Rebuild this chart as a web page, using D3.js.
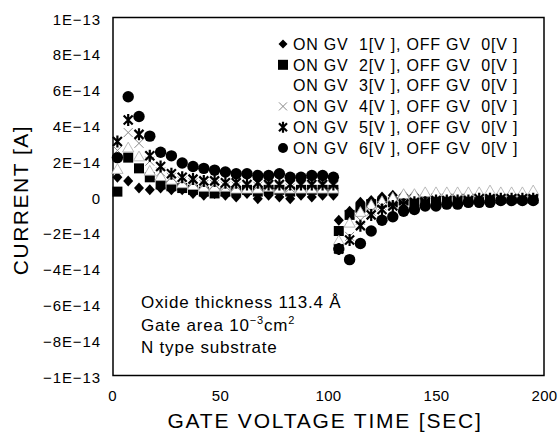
<!DOCTYPE html>
<html><head><meta charset="utf-8">
<script src="https://cdn.jsdelivr.net/npm/d3@7"></script>
<style>body{margin:0;background:#fff;} text{font-family:"Liberation Sans",Arial,sans-serif;fill:#000;}</style>
</head><body>
<svg id="c" width="559" height="441"></svg>
<script>
// ---- data ----
const timesOn  = d3.range(21).map(k => 2.5 + 5*k);      // ON phase sample times [s]
const timesOff = d3.range(19).map(k => 105 + 5*k);      // OFF phase sample times [s]
const seriesNames = ["ON GV  1[V ], OFF GV  0[V ]","ON GV  2[V ], OFF GV  0[V ]","ON GV  3[V ], OFF GV  0[V ]",
                     "ON GV  4[V ], OFF GV  0[V ]","ON GV  5[V ], OFF GV  0[V ]","ON GV  6[V ], OFF GV  0[V ]"];
// values in units of 1E-14 A
const s1On  = [1.1,0.9,0.5,0.4,0.5,0.4,0.4,0.2,0.1,0.2,0.1,0.0,0.2,-0.1,0.1,0.0,-0.1,0.1,0.0,0.1,0.1];
const s2On  = [0.3,2.2,1.6,1.1,0.7,0.6,0.5,0.4,0.3,0.2,0.3,0.3,0.4,0.3,0.4,0.4,0.3,0.4,0.4,0.4,0.4];
const s3On  = [1.5,2.7,2.2,1.4,1.1,0.9,0.7,0.6,0.5,0.5,0.5,0.4,0.4,0.4,0.5,0.4,0.4,0.4,0.4,0.4,0.4];
const s4On  = [2.6,3.6,3.0,2.0,1.4,1.1,0.9,0.8,0.7,0.7,0.6,0.6,0.6,0.6,0.6,0.6,0.5,0.6,0.6,0.6,0.6];
const s5On  = [3.1,4.3,3.5,2.3,1.7,1.3,1.1,1.0,0.9,0.9,0.8,0.8,0.7,0.8,0.7,0.7,0.7,0.7,0.7,0.7,0.7];
const s6On  = [2.2,5.6,4.5,3.4,2.5,2.3,1.9,1.7,1.6,1.5,1.4,1.3,1.3,1.2,1.2,1.3,1.1,1.1,1.2,1.2,1.1];
const s1Off = [-1.3,-0.8,-0.3,-0.2,0.0,0.1,0.1,0.1,0.1,0.1,0.1,0.1,0.1,0.1,0.1,0.1,0.1,0.1,0.1];
const s2Off = [-1.9,-1.0,-0.6,-0.4,-0.3,-0.3,-0.2,-0.2,-0.2,-0.1,-0.1,-0.1,-0.1,-0.1,-0.1,-0.1,-0.1,-0.1,-0.1];
const s3Off = [-2.5,-1.5,-0.9,-0.5,-0.3,-0.1,0.1,0.1,0.2,0.2,0.2,0.2,0.2,0.2,0.3,0.2,0.2,0.2,0.3];
const s4Off = [-2.9,-2.2,-1.3,-0.8,-0.5,-0.4,-0.3,-0.3,-0.2,-0.2,-0.2,-0.1,-0.1,-0.1,-0.1,-0.1,-0.1,-0.1,-0.1];
const s5Off = [-2.9,-2.4,-1.6,-1.0,-0.7,-0.5,-0.4,-0.3,-0.3,-0.2,-0.2,-0.2,-0.2,-0.1,-0.1,-0.1,-0.1,-0.1,-0.1];
const s6Off = [-2.9,-3.5,-2.6,-1.9,-1.3,-1.1,-0.8,-0.7,-0.5,-0.5,-0.4,-0.4,-0.3,-0.3,-0.3,-0.2,-0.2,-0.2,-0.2];
const yTickValues = [1e-13,8e-14,6e-14,4e-14,2e-14,0,-2e-14,-4e-14,-6e-14,-8e-14,-1e-13];
const yTickLabels = ["1E\u221213","8E\u221214","6E\u221214","4E\u221214","2E\u221214","0","\u22122E\u221214","\u22124E\u221214","\u22126E\u221214","\u22128E\u221214","\u22121E\u221213"];
const xTickValues = [0,50,100,150,200];

const onVals  = [s1On,s2On,s3On,s4On,s5On,s6On];
const offVals = [s1Off,s2Off,s3Off,s4Off,s5Off,s6Off];

// ---- chart ----
const svg = d3.select("#c");
const x = d3.scaleLinear().domain([0,200]).range([112,544]);
const y = d3.scaleLinear().domain([-1e-13,1e-13]).range([376,18]);

// frame
svg.append("rect").attr("x",113).attr("y",17.5).attr("width",431).attr("height",358)
  .attr("fill","none").attr("stroke","#000").attr("stroke-width",1.5);

// y tick labels
const yAx = d3.axisLeft(y).tickValues(yTickValues).tickSize(0).tickPadding(0)
  .tickFormat((d,i)=>yTickLabels[i]);
const gy = svg.append("g").attr("transform","translate(101,0)").call(yAx);
gy.select(".domain").remove();
gy.selectAll("text").style("font-size","15px").style("letter-spacing","0.9px")
  .style("font-family","'Liberation Sans',Arial,sans-serif").attr("dy","0.4em");

const xAx = d3.axisBottom(x).tickValues(xTickValues).tickSize(0).tickPadding(0);
const gx = svg.append("g").attr("transform","translate(0,390)").call(xAx);
gx.select(".domain").remove();
gx.selectAll("text").style("font-size","15px").style("letter-spacing","0.3px")
  .style("font-family","'Liberation Sans',Arial,sans-serif").attr("dy","0.75em");

// axis titles
svg.append("text").attr("x",325).attr("y",428).attr("text-anchor","middle")
  .style("font-size","21px").style("letter-spacing","1.8px").text("GATE VOLTAGE TIME [SEC]");
svg.append("text").attr("transform","translate(28,200) rotate(-90)").attr("text-anchor","middle")
  .style("font-size","21px").style("letter-spacing","1.5px").text("CURRENT [A]");

// marker painters
const diamond = "M0,-5.5L5,0L0,5.5L-5,0Z";
const markers = [
  g => g.append("path").attr("d",diamond).attr("fill","#000"),
  g => g.append("rect").attr("x",-5).attr("y",-5).attr("width",10).attr("height",10).attr("fill","#000"),
  g => g.append("path").attr("d",d3.symbol(d3.symbolTriangle,55)()).attr("fill","#fff").attr("stroke","#aaa").attr("stroke-width",0.8),
  g => g.append("path").attr("d","M-4.5,-4.5L4.5,4.5M-4.5,4.5L4.5,-4.5").attr("stroke","#888").attr("stroke-width",1).attr("fill","none"),
  g => g.append("path").attr("d","M-4.5,-4.5L4.5,4.5M-4.5,4.5L4.5,-4.5M0,-6L0,6").attr("stroke","#000").attr("stroke-width",2.2).attr("fill","none"),
  g => g.append("circle").attr("r",5.7).attr("fill","#000")
];

const plot = svg.append("g");
for (let s=0; s<6; s++) {
  const pts = timesOn.map((t,i)=>({t, v:onVals[s][i]*1e-14}))
    .concat(timesOff.map((t,i)=>({t, v:offVals[s][i]*1e-14})));
  plot.selectAll(null).data(pts).enter().append("g")
    .attr("transform", d=>`translate(${x(d.t)},${y(d.v)})`)
    .each(function(){ markers[s](d3.select(this)); });
}

// legend
const leg = svg.append("g");
seriesNames.forEach((name,i)=>{
  const cy = 44 + 20.8*i;
  if (i !== 2) {
    const g = leg.append("g").attr("transform",`translate(283,${cy})`);
    if (i===0) g.append("path").attr("d","M0,-4.5L4.5,0L0,4.5L-4.5,0Z").attr("fill","#000");
    else if (i===1) g.append("rect").attr("x",-5).attr("y",-5).attr("width",10).attr("height",10).attr("fill","#000");
    else if (i===3) g.append("path").attr("d","M-4,-4L4,4M-4,4L4,-4").attr("stroke","#888").attr("stroke-width",1);
    else if (i===4) g.append("path").attr("d","M-4,-4L4,4M-4,4L4,-4M0,-5.5L0,5.5").attr("stroke","#000").attr("stroke-width",2.2);
    else g.append("circle").attr("r",5).attr("fill","#000");
  }
  leg.append("text").attr("x",293).attr("y",cy).attr("dy","0.36em")
    .style("font-size","16px").style("letter-spacing","0.8px").style("white-space","pre").text(name);
});

// annotation
const ann = svg.append("g").style("font-size","17px");
ann.append("text").attr("x",141).attr("y",308).style("letter-spacing","0.8px").text("Oxide thickness 113.4 \u00C5");
const t2 = ann.append("text").attr("x",141).attr("y",331).style("letter-spacing","0.8px");
t2.append("tspan").text("Gate area 10");
t2.append("tspan").attr("dy",-7).style("font-size","11px").text("\u22123");
t2.append("tspan").attr("dy",7).text("cm");
t2.append("tspan").attr("dy",-7).style("font-size","11px").text("2");
ann.append("text").attr("x",141).attr("y",353).style("letter-spacing","0.8px").text("N type substrate");
</script>
</body></html>
